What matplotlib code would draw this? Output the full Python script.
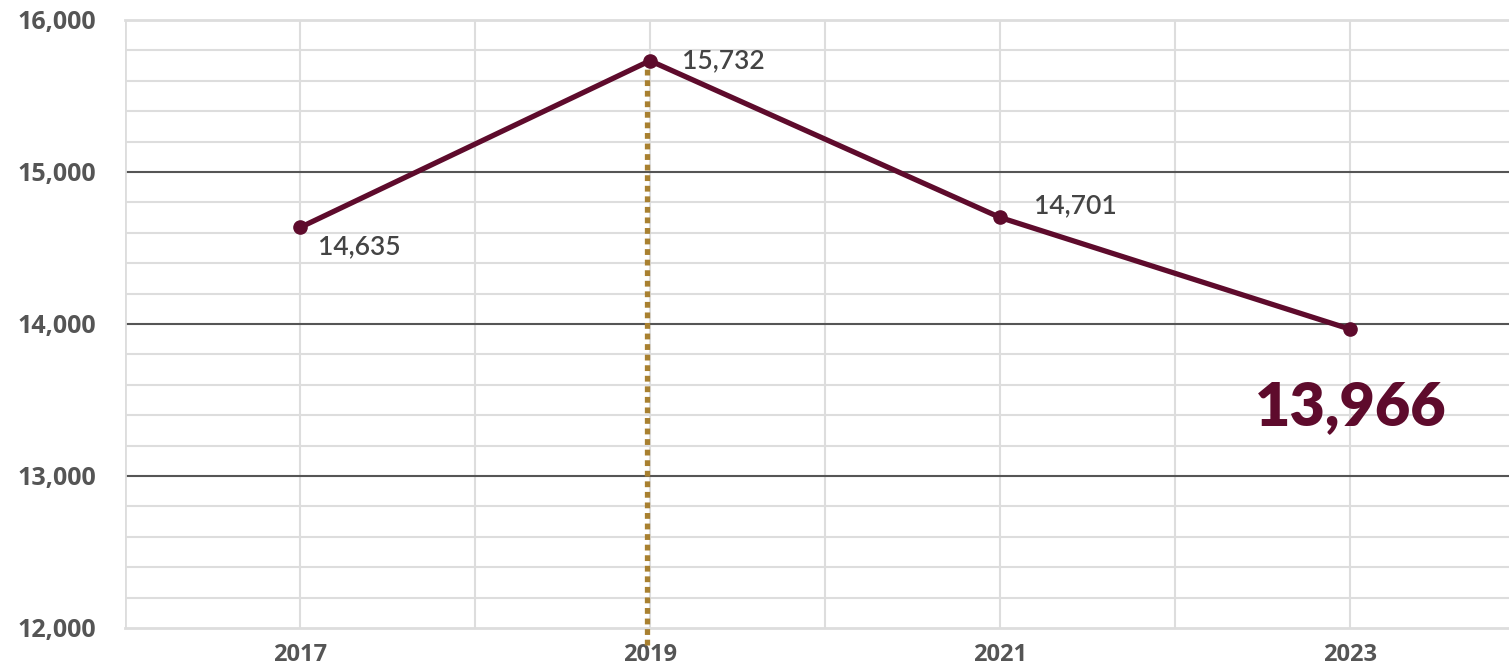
import numpy as np
import matplotlib.pyplot as plt

years = [2017, 2019, 2021, 2023]
values = [14635, 15732, 14701, 13966]
labels = ['14,635', '15,732', '14,701', '13,966']
y_ticks = [12000, 13000, 14000, 15000, 16000]
y_tick_labels = ['12,000', '13,000', '14,000', '15,000', '16,000']
x_ticks = [2017, 2019, 2021, 2023]

maroon = '#5e0b2c'
gold = '#a88030'
light = '#dddddd'
dark = '#555555'

fig = plt.figure(figsize=(15.09, 6.69), dpi=100)
ax = fig.add_axes([125 / 1509, 1 - 628 / 669, (1509 - 125) / 1509, (628 - 20) / 669])
ax.set_xlim(2016, 2016 + (1509 - 125) / 175)
ax.set_ylim(12000, 16000)

# grid
for yr in range(2017, 2024):
    ax.axvline(yr, color=light, lw=1.5, zorder=0)
for v in range(12200, 16000, 200):
    ax.axhline(v, color=dark if v % 1000 == 0 else light, lw=1.5, zorder=0)
ax.axhline(16000, color=light, lw=2, zorder=0, clip_on=False)
ax.axhline(12000, color=light, lw=2, zorder=0, clip_on=False)

for s in ax.spines.values():
    s.set_visible(False)
ax.axvline(2016, color=light, lw=2, zorder=0)

# dotted peak marker
peak = int(np.argmax(values))
ax.plot([years[peak] - 0.015, years[peak] - 0.015], [11890, values[peak]], color=gold, lw=3.8,
        ls=(0, (1.1, 0.9)), zorder=2, clip_on=False)

ax.plot(years, values, color=maroon, lw=3.8, marker='o', ms=9.5, zorder=3)

offsets = [(18, -19), (32, 0), (34, 12)]
for i in range(3):
    ax.annotate(labels[i], (years[i], values[i]), xytext=offsets[i], textcoords='offset pixels',
                ha='left', va='center', fontsize=19, color='#444444', family='Lato', weight='semibold')
ax.annotate(labels[3], (years[3], values[3]), xytext=(1, -78), textcoords='offset pixels',
            ha='center', va='center', fontsize=44, color=maroon, family='Lato', weight='heavy')

ax.set_yticks(y_ticks)
ax.set_yticklabels(y_tick_labels, fontsize=18, weight='bold', color=dark, family='Open Sans')
ax.set_xticks(x_ticks)
ax.set_xticklabels([str(x) for x in x_ticks], fontsize=17, weight='bold', color=dark, family='Open Sans')
ax.tick_params(length=0)
ax.tick_params(axis='y', pad=21)
ax.tick_params(axis='x', pad=11)

fig.savefig('out.png', dpi=100)
